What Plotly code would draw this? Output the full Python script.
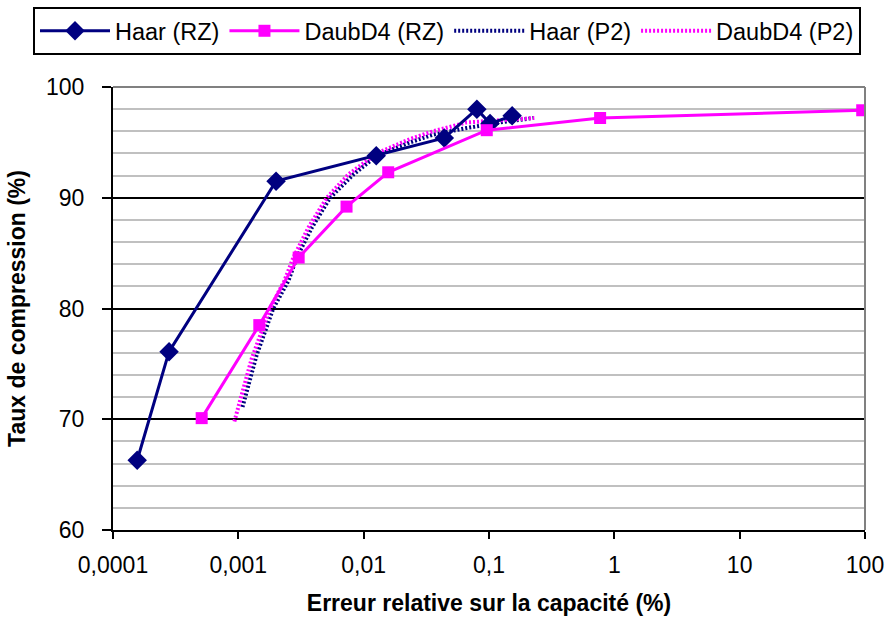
import plotly.graph_objects as go

# Data
haar_rz_x = [0.000156, 0.00028, 0.0020, 0.0126, 0.044, 0.080, 0.102, 0.153]
haar_rz_y = [66.3, 76.1, 91.5, 93.8, 95.4, 98.0, 96.7, 97.4]

daub_rz_x = [0.00051, 0.00147, 0.00303, 0.0073, 0.0157, 0.096, 0.77, 95]
daub_rz_y = [70.1, 78.5, 84.6, 89.2, 92.3, 96.1, 97.2, 97.9]

haar_p2_x = [0.00108, 0.00140, 0.0019, 0.00251, 0.00292, 0.00386, 0.0054, 0.00828,
             0.0127, 0.0234, 0.0358, 0.0665, 0.123, 0.225]
haar_p2_y = [71.1, 75.8, 80.0, 82.5, 84.6, 87.3, 90.0, 92.1,
             93.8, 95.0, 95.7, 96.3, 96.8, 97.2]

daub_p2_x = [0.00093, 0.00128, 0.00179, 0.00233, 0.00275, 0.00362, 0.00508, 0.00755,
             0.0127, 0.0234, 0.0358, 0.0665, 0.123, 0.23]
daub_p2_y = [69.8, 75.5, 80.0, 82.5, 84.6, 87.3, 90.0, 92.1,
             94.0, 95.3, 96.0, 96.8, 97.0, 97.2]

x_tickvals = [0.0001, 0.001, 0.01, 0.1, 1, 10, 100]
x_ticktext = ["0,0001", "0,001", "0,01", "0,1", "1", "10", "100"]

NAVY = "#000080"
MAGENTA = "#FF00FF"
FONT = "Liberation Sans, Arial, sans-serif"

fig = go.Figure()

fig.add_trace(go.Scatter(x=haar_p2_x, y=haar_p2_y, mode="lines", name="Haar (P2)",
                         legendrank=3,
                         line=dict(color=NAVY, width=4, dash="2px,2px")))
fig.add_trace(go.Scatter(x=daub_p2_x, y=daub_p2_y, mode="lines", name="DaubD4 (P2)",
                         legendrank=4,
                         line=dict(color=MAGENTA, width=4, dash="2px,2px")))
fig.add_trace(go.Scatter(x=haar_rz_x, y=haar_rz_y, mode="lines+markers", name="Haar (RZ)",
                         legendrank=1,
                         line=dict(color=NAVY, width=3),
                         marker=dict(symbol="diamond", size=15, color=NAVY)))
fig.add_trace(go.Scatter(x=daub_rz_x, y=daub_rz_y, mode="lines+markers", name="DaubD4 (RZ)",
                         legendrank=2,
                         line=dict(color=MAGENTA, width=3),
                         marker=dict(symbol="square", size=12, color=MAGENTA)))

fig.update_layout(
    width=889, height=624,
    margin=dict(l=113, r=24, t=87, b=94, autoexpand=False),
    paper_bgcolor="white", plot_bgcolor="white",
    font=dict(family=FONT, size=23, color="black"),
    legend=dict(orientation="h",
                x=(33 - 113) / 752, y=(530 - 7) / 443, xanchor="left", yanchor="top",
                bordercolor="black", borderwidth=2, bgcolor="white",
                itemwidth=70, font=dict(size=23.5),
                traceorder="normal"),
    showlegend=True,
)

fig.update_xaxes(type="log", range=[-4, 2],
                 tickvals=x_tickvals, ticktext=x_ticktext,
                 showgrid=False, showline=True, linecolor="black", linewidth=2,
                 ticks="outside", ticklen=7, tickwidth=2, tickcolor="black",
                 ticklabelstandoff=6,
                 title=dict(text="<b>Erreur relative sur la capacité (%)</b>",
                            font=dict(size=23), standoff=18),
                 zeroline=False)
fig.update_yaxes(range=[60, 100], dtick=10,
                 showgrid=True, gridcolor="black", gridwidth=2,
                 minor=dict(dtick=2, showgrid=True, gridcolor="#c0c0c0", gridwidth=2, ticks=""),
                 showline=True, linecolor="black", linewidth=2,
                 ticks="outside", ticklen=9, tickwidth=2, tickcolor="black",
                 ticklabelstandoff=13,
                 title=dict(text="<b>Taux de compression (%)</b>", font=dict(size=23), standoff=14),
                 zeroline=False)

# grey frame on top and right of the plot area
fig.add_shape(type="line", xref="paper", yref="paper", x0=0, x1=1, y0=1, y1=1,
              line=dict(color="#808080", width=2), layer="above")
fig.add_shape(type="line", xref="paper", yref="paper", x0=1, x1=1, y0=0, y1=1,
              line=dict(color="#808080", width=2), layer="above")

fig.write_html("out.html", post_script="document.body.style.margin='0';",
               config={"displayModeBar": False})
